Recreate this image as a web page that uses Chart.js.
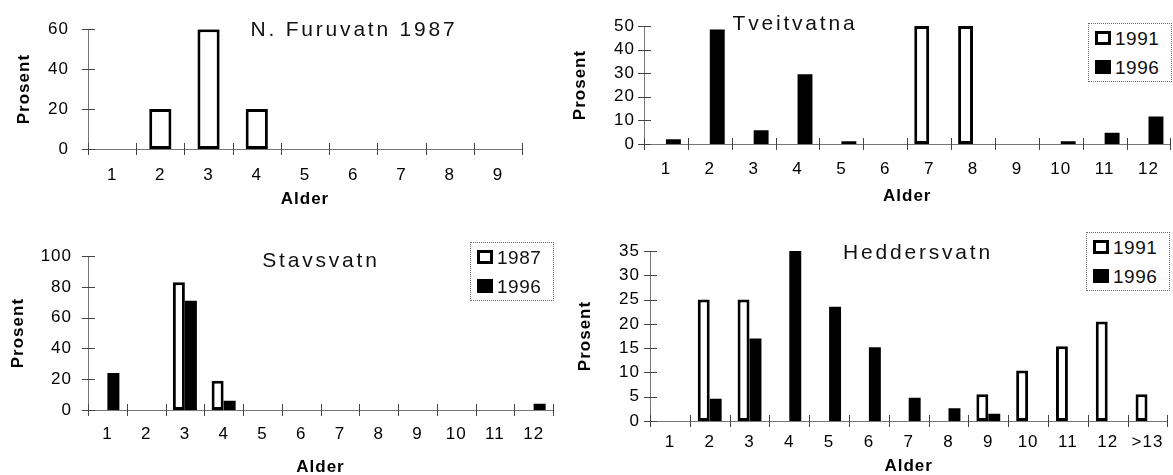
<!DOCTYPE html>
<html>
<head>
<meta charset="utf-8">
<script src="https://cdn.jsdelivr.net/npm/chart.js@4.4.0/dist/chart.umd.min.js"></script>
<style>
  html, body { margin: 0; padding: 0; background: #fff; overflow: hidden; }
  #wrap { position: relative; width: 1173px; height: 475px; overflow: hidden; font-family: "Liberation Sans", Arial, sans-serif; }
  canvas { position: absolute; }
  .title { position: absolute; transform: translate(-50%, -50%); font-size: 21px; line-height: 21px; letter-spacing: 2.8px; white-space: nowrap; color: #111; }
  .legend { position: absolute; width: 84px; height: 59px; box-sizing: border-box; border: 1px dotted #666; background: #fff; }
  .legend .row { position: absolute; left: 0; height: 29px; width: 100%; }
  .legend .mark { position: absolute; left: 6px; top: 7px; width: 16px; height: 14px; box-sizing: border-box; }
  .legend .txt { position: absolute; left: 26px; top: 0; line-height: 29px; font-size: 19px; letter-spacing: 0.5px; color: #111; }
</style>
</head>
<body>
<div id="wrap">
  <canvas id="c1" width="570" height="225" style="left:0;top:0"></canvas>
  <canvas id="c2" width="603" height="225" style="left:570px;top:0"></canvas>
  <canvas id="c3" width="570" height="250" style="left:0;top:230px"></canvas>
  <canvas id="c4" width="603" height="250" style="left:570px;top:230px"></canvas>
  <div class="title" style="left:354px;top:27.5px">N. Furuvatn 1987</div>
  <div class="title" style="left:795px;top:22px">Tveitvatna</div>
  <div class="title" style="left:321px;top:259px">Stavsvatn</div>
  <div class="title" style="left:918px;top:250.5px">Heddersvatn</div>
  <div class="legend" id="lg2" style="left:1088px;top:23px"></div>
  <div class="legend" id="lg3" style="left:470px;top:242px"></div>
  <div class="legend" id="lg4" style="left:1086px;top:232px"></div>
</div>
<script>
// N. Furuvatn 1987
const furuAges = ['1', '2', '3', '4', '5', '6', '7', '8', '9'];
const furu1987 = [0, 20, 60, 20, 0, 0, 0, 0, 0];
const furuTicks = [0, 20, 40, 60];

// Tveitvatna
const tveitAges = ['1', '2', '3', '4', '5', '6', '7', '8', '9', '10', '11', '12'];
const tveit1991 = [0, 0, 0, 0, 0, 0, 50, 50, 0, 0, 0, 0];
const tveit1996 = [2, 48.5, 5.8, 29.6, 1.2, 0, 0, 0, 0, 1.2, 4.8, 11.7];
const tveitTicks = [0, 10, 20, 30, 40, 50];

// Stavsvatn
const stavAges = ['1', '2', '3', '4', '5', '6', '7', '8', '9', '10', '11', '12'];
const stav1987 = [0, 0, 83, 19, 0, 0, 0, 0, 0, 0, 0, 0];
const stav1996 = [24, 0, 71, 6, 0, 0, 0, 0, 0, 0, 0, 4];
const stavTicks = [0, 20, 40, 60, 80, 100];

// Heddersvatn
const heddAges = ['1', '2', '3', '4', '5', '6', '7', '8', '9', '10', '11', '12', '>13'];
const hedd1991 = [0, 25, 25, 0, 0, 0, 0, 0, 5.5, 10.4, 15.4, 20.5, 5.5];
const hedd1996 = [0, 4.6, 17, 35, 23.5, 15.2, 4.8, 2.6, 1.5, 0, 0, 0, 0];
const heddTicks = [0, 5, 10, 15, 20, 25, 30, 35];

const FONT = '"Liberation Sans", Arial, sans-serif';

// tick marks that cross the axis lines, like the original
const crossTicks = {
  id: 'crossTicks',
  beforeDraw(chart) {
    chart.ctx.letterSpacing = '1px';
  },
  beforeDatasetsDraw(chart) {
    const { ctx, chartArea: a, scales: { x, y } } = chart;
    ctx.save();
    ctx.strokeStyle = '#444';
    ctx.lineWidth = 1;
    ctx.beginPath();
    y.ticks.forEach((t, i) => {
      const py = Math.round(y.getPixelForTick(i)) + 0.5;
      ctx.moveTo(a.left - 6, py);
      ctx.lineTo(a.left + 7, py);
    });
    const n = x.ticks.length;
    const w = (a.right - a.left) / n;
    for (let i = 0; i <= n; i++) {
      const px = Math.round(a.left + i * w) + 0.5;
      ctx.moveTo(px, a.bottom - 6);
      ctx.lineTo(px, a.bottom + 6);
    }
    ctx.stroke();
    ctx.restore();
  }
};

function openBars(label, data) {
  return { label, data, backgroundColor: '#fff', borderColor: '#000', borderWidth: 3, borderSkipped: false, inflateAmount: 0 };
}
function filledBars(label, data) {
  return { label, data, backgroundColor: '#000', borderColor: '#000', borderWidth: 0, inflateAmount: 0 };
}

function makeChart(id, labels, datasets, yTicks, o) {
  return new Chart(document.getElementById(id), {
    type: 'bar',
    data: { labels, datasets },
    options: {
      responsive: false,
      animation: false,
      events: [],
      datasets: { bar: { categoryPercentage: o.cat, barPercentage: 1 } },
      layout: { padding: { left: 0, top: o.top, right: o.right, bottom: 0 } },
      plugins: { legend: { display: false }, tooltip: { enabled: false } },
      scales: {
        x: {
          grid: { display: false, drawTicks: false },
          border: { display: true, color: '#777', width: 1, dash: [2, 1] },
          ticks: { color: '#000', font: { family: FONT, size: 17 }, padding: o.xPad, maxRotation: 0, autoSkip: false },
          title: { display: true, text: 'Alder', color: '#000', font: { family: FONT, size: 17, weight: 'bold' }, padding: { top: 0, bottom: o.xTitle } },
          afterFit(s) { s.height = o.xH; }
        },
        y: {
          min: 0,
          max: yTicks[yTicks.length - 1],
          grid: { display: false, drawTicks: false },
          border: { display: true, color: '#777', width: 1, dash: [2, 1] },
          ticks: { color: '#000', font: { family: FONT, size: 17 }, padding: o.yPad },
          title: { display: true, text: 'Prosent', color: '#000', font: { family: FONT, size: 17, weight: 'bold' }, padding: { top: o.yTitle, bottom: 0 } },
          afterBuildTicks(s) { s.ticks = yTicks.map(v => ({ value: v })); },
          afterFit(s) { s.width = o.yW; }
        }
      }
    },
    plugins: [crossTicks]
  });
}

function makeLegend(divId, chart) {
  const box = document.getElementById(divId);
  chart.data.datasets.forEach((ds, i) => {
    const row = document.createElement('div');
    row.className = 'row';
    row.style.top = (i * 29) + 'px';
    const mark = document.createElement('div');
    mark.className = 'mark';
    mark.style.background = ds.backgroundColor;
    mark.style.border = '3px solid #000';
    const txt = document.createElement('div');
    txt.className = 'txt';
    txt.textContent = ds.label;
    row.appendChild(mark);
    row.appendChild(txt);
    box.appendChild(row);
  });
}

makeChart('c1', furuAges, [openBars('1987', furu1987)], furuTicks,
  { cat: 0.46, top: 25, right: 48, yW: 88, xH: 76, yPad: 19, xPad: 16, yTitle: 14, xTitle: 15 });

const ch2 = makeChart('c2', tveitAges, [openBars('1991', tveit1991), filledBars('1996', tveit1996)], tveitTicks,
  { cat: 0.68, top: 26, right: 1, yW: 74, xH: 81, yPad: 9, xPad: 15, yTitle: 0, xTitle: 18 });

const ch3 = makeChart('c3', stavAges, [openBars('1987', stav1987), filledBars('1996', stav1996)], stavTicks,
  { cat: 0.62, top: 24, right: 17, yW: 88, xH: 70, yPad: 16, xPad: 14, yTitle: 8, xTitle: 2 });

const ch4 = makeChart('c4', heddAges, [openBars('1991', hedd1991), filledBars('1996', hedd1996)], heddTicks,
  { cat: 0.6, top: 21, right: 2, yW: 80, xH: 59, yPad: 10, xPad: 11, yTitle: 5, xTitle: 3 });

makeLegend('lg2', ch2);
makeLegend('lg3', ch3);
makeLegend('lg4', ch4);
</script>
</body>
</html>
